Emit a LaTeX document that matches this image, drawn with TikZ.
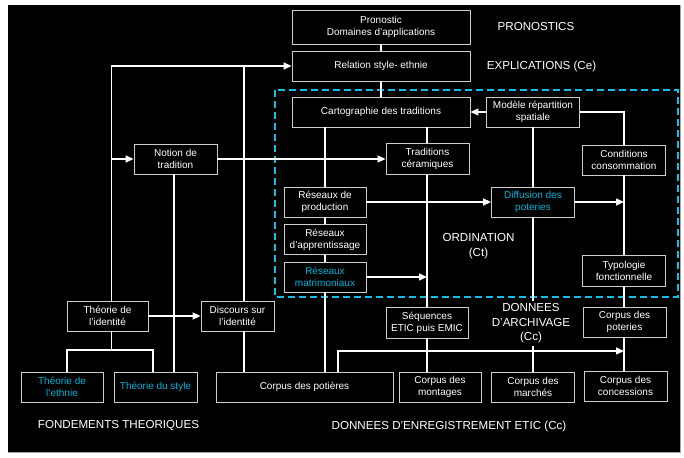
\documentclass[tikz,border=0pt]{standalone}
\usepackage{fontspec}
\setmainfont{Liberation Sans}
\usetikzlibrary{arrows.meta}
\definecolor{cyantext}{RGB}{0,178,218}
\definecolor{cyandash}{RGB}{20,190,230}
\definecolor{boxgray}{RGB}{205,205,205}
\begin{document}
\begin{tikzpicture}[x=1pt,y=-1pt,
  box/.style={draw=boxgray, line width=0.8pt, fill=black, text=white, align=center, inner sep=0pt, font=\fontsize{10}{12}\selectfont},
  cbox/.style={box, text=cyantext},
  conn/.style={draw=white, line width=1.3pt},
  arr/.style={conn, -{Triangle[length=8pt,width=7pt]}},
  lbl/.style={text=white, align=center, font=\fontsize{11.6}{14.5}\selectfont, inner sep=0pt}]
\useasboundingbox (0,0) rectangle (684,457);
\fill[white] (0,0) rectangle (684,457);
\fill[black] (8,5) rectangle (680,452);
\draw[gray!70, line width=0.8pt] (680.5,5) -- (680.5,452.5) -- (8,452.5);

\draw[cyandash, line width=2.2pt, dash pattern=on 7pt off 4pt] (275,90) rectangle (678,297);

% boxes
\node[box, minimum width=178pt, minimum height=34pt] (pron) at (381,27) {Pronostic\\Domaines d'applications};
\node[box, minimum width=178pt, minimum height=30pt] (rel) at (381,66) {Relation style- ethnie};
\node[box, minimum width=178pt, minimum height=30pt] (carto) at (381,112) {Cartographie des traditions};
\node[box, minimum width=93pt, minimum height=30pt] (modele) at (533,112) {Modèle répartition\\spatiale};
\node[box, minimum width=83pt, minimum height=30pt] (cond) at (624,160) {Conditions\\consommation};
\node[box, minimum width=83pt, minimum height=30pt] (notion) at (175.5,159) {Notion de\\tradition};
\node[box, minimum width=83pt, minimum height=31pt] (trad) at (427.5,159) {Traditions\\céramiques};
\node[box, minimum width=82pt, minimum height=30pt] (rp) at (325,202) {Réseaux de\\production};
\node[box, minimum width=82pt, minimum height=30pt] (ra) at (325,239.5) {Réseaux\\d'apprentissage};
\node[cbox, minimum width=82pt, minimum height=30pt] (rm) at (325,277) {Réseaux\\matrimoniaux};
\node[cbox, minimum width=83pt, minimum height=30pt] (diff) at (533,202) {Diffusion des\\poteries};
\node[box, minimum width=83pt, minimum height=31pt] (typo) at (624,270.5) {Typologie\\fonctionnelle};
\node[box, minimum width=83pt, minimum height=30pt] (cp) at (624.5,322) {Corpus des\\poteries};
\node[box, minimum width=83pt, minimum height=30pt] (conc) at (625.5,386) {Corpus des\\concessions};
\node[box, minimum width=83pt, minimum height=30pt] (marches) at (533,387) {Corpus des\\marchés};
\node[box, minimum width=82pt, minimum height=30pt] (montages) at (440,387) {Corpus des\\montages};
\node[box, minimum width=82pt, minimum height=31pt] (seq) at (427,322.5) {Séquences\\ETIC puis EMIC};
\node[box, minimum width=177pt, minimum height=30pt] (potieres) at (304.5,387) {Corpus des potières};
\node[box, minimum width=81pt, minimum height=30pt] (idt) at (107.5,316) {Théorie de\\l'identité};
\node[box, minimum width=73pt, minimum height=30pt] (disc) at (237.5,316) {Discours sur\\l'identité};
\node[cbox, minimum width=82pt, minimum height=30pt] (ethnie) at (62,387) {Théorie de\\l'ethnie};
\node[cbox, minimum width=83pt, minimum height=30pt] (style) at (155.5,387) {Théorie du style};

% helper coordinates
\coordinate (L) at (111.5,66);
\coordinate (V) at (244,66);
\coordinate (R) at (624,112);
\coordinate (T) at (427,127);
\coordinate (P) at (325,127);
\coordinate (H) at (338,351);
\coordinate (B) at (111.5,350);
\coordinate (BL) at (67,350);
\coordinate (BR) at (153,350);
\coordinate (S) at (174,300);

% connectors
\draw[arr] (L |- idt.north) -- (L) -- (rel.west);
\draw[arr] (L |- notion.west) -- (notion.west);
\draw[conn] (V) -- (V |- disc.north);
\draw[conn] (V |- disc.south) -- (V |- potieres.north);
\draw[conn] (pron.south) -- (rel.north);
\draw[conn] (rel.south) -- (carto.north);
\draw[arr] (modele.west) -- (carto.east);
\draw[conn] (modele.east) -- (R) -- (cond.north);
\draw[arr] (notion.east) -- (trad.west);
\draw[conn] (T) -- (T |- trad.north);
\draw[conn] (T |- trad.south) -- (T |- seq.north);
\draw[conn] (T |- seq.south) -- (T |- montages.north);
\draw[conn] (P) -- (rp.north);
\draw[conn] (rp.south) -- (ra.north);
\draw[conn] (ra.south) -- (rm.north);
\draw[conn] (rm.south) -- (rm.south |- potieres.north);
\draw[arr] (rp.east) -- (diff.west);
\draw[arr] (diff.east) -- (diff.east -| R);
\draw[arr] (rm.east) -- (rm.east -| T);
\draw[conn] (modele.south) -- (diff.north);
\draw[conn] (diff.south) -- (marches.north);
\draw[conn] (cond.south) -- (typo.north);
\draw[conn] (typo.south) -- (typo.south |- cp.north);
\draw[conn] (cp.south -| R) -- (R |- conc.north);
\draw[arr] (H |- potieres.north) -- (H) -- (H -| R);
\draw[arr] (idt.east) -- (disc.west);
\draw[conn] (L |- idt.south) -- (B);
\draw[conn] (BL |- ethnie.north) -- (BL) -- (BR) -- (BR |- style.north);
\draw[conn] (S |- style.north) -- (S |- notion.south);

% labels
\node[lbl] (lpron) at (536,27) {PRONOSTICS};
\node[lbl] (lexp) at (541.5,66) {EXPLICATIONS (Ce)};
\node[lbl] (lord) at (478.5,246) {ORDINATION\\(Ct)};
\node[lbl, fill=black, inner ysep=2.5pt, inner xsep=1pt] (larch) at (531,323.5) {DONNEES\\D'ARCHIVAGE\\(Cc)};
\node[lbl] (lfond) at (118.5,426) {FONDEMENTS THEORIQUES};
\node[lbl] (lenr) at (449,426) {DONNEES D'ENREGISTREMENT ETIC (Cc)};
\end{tikzpicture}
\end{document}
